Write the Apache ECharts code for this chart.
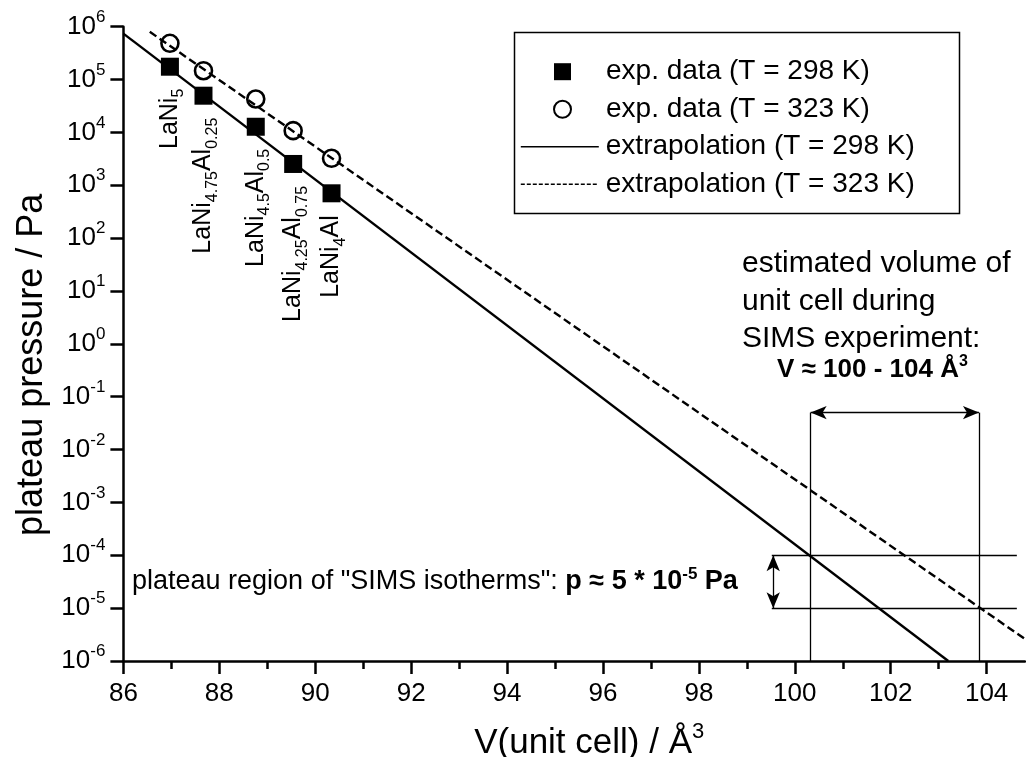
<!DOCTYPE html>
<html><head><meta charset="utf-8">
<script src="https://cdn.jsdelivr.net/npm/echarts@6/dist/echarts.min.js"></script>
<style>html,body{margin:0;padding:0;background:#fff}#c{width:1026px;height:757px}</style>
</head><body><div id="c"></div>
<script>
// ---- data ----
const volume = [86.97, 87.67, 88.76, 89.54, 90.34];
const p298 = [1.75e5, 4.95e4, 1.28e4, 2.53e3, 7.05e2];
const p323 = [4.85e5, 1.47e5, 4.29e4, 1.08e4, 3.24e3];
const compounds = ['{m|LaNi}{s|5}', '{m|LaNi}{s|4.75}{m|Al}{s|0.25}', '{m|LaNi}{s|4.5}{m|Al}{s|0.5}', '{m|LaNi}{s|4.25}{m|Al}{s|0.75}', '{m|LaNi}{s|4}{m|Al}'];
const fitV298 = [86.0, 103.2];
const fitP298 = [7.4e5, 1e-6];
const fitV323 = [86.55, 104.8];
const fitP323 = [8.0e5, 2.6e-6];
const simsV = [100.33, 103.84];      // estimated volume range (vertical lines)
const simsP = [1e-4, 1e-5];          // plateau pressure range (horizontal lines)
const guideVRange = [99.52, 104.63]; // extent of horizontal guide lines
const arrowV = 99.55;                // vertical double arrow position
const arrowP = 0.05;                 // horizontal double arrow level
const pBottom = 1e-6;
const xMajorTicks = [86, 88, 90, 92, 94, 96, 98, 100, 102, 104];
const xMinorTicks = [87, 89, 91, 93, 95, 97, 99, 101, 103];
const yTicks = [1e-6, 1e-5, 1e-4, 1e-3, 1e-2, 1e-1, 1e0, 1e1, 1e2, 1e3, 1e4, 1e5, 1e6];
const seriesNames = ['exp. data (T = 298 K)', 'exp. data (T = 323 K)', 'extrapolation (T = 298 K)', 'extrapolation (T = 323 K)'];

const FF = "'Liberation Sans', Arial, Helvetica, sans-serif";
const chart = echarts.init(document.getElementById('c'), null, {renderer: 'canvas'});

const thin = {color: '#000', width: 1.3, type: 'solid'};
function seg(a, b, sa, sb) {
  return [{coord: a, symbol: sa || 'none', symbolSize: [10, 16]}, {coord: b, symbol: sb || 'none', symbolSize: [10, 16]}];
}
const guides = [
  seg([simsV[0], pBottom], [simsV[0], arrowP]),
  seg([simsV[1], pBottom], [simsV[1], arrowP]),
  seg([guideVRange[0], simsP[0]], [guideVRange[1], simsP[0]]),
  seg([guideVRange[0], simsP[1]], [guideVRange[1], simsP[1]]),
  seg([simsV[0], arrowP], [simsV[1], arrowP], 'arrow', 'arrow'),
  seg([arrowV, simsP[0]], [arrowV, simsP[1]], 'arrow', 'arrow')
];

const option = {
  animation: false,
  backgroundColor: '#fff',
  textStyle: {fontFamily: FF, color: '#000'},
  grid: {left: 123.4, top: 26.7, right: 1, bottom: 96, containLabel: false, outerBoundsMode: 'none'},
  legend: [
    {
      data: [seriesNames[0], seriesNames[1]], orient: 'vertical', left: 548, top: 50.7,
      itemWidth: 17, itemHeight: 17, itemGap: 5.5, selectedMode: false,
      textStyle: {fontSize: 28, lineHeight: 32, color: '#000', fontFamily: FF, padding: [0, 0, 0, 30]}
    },
    {
      data: [
        {name: seriesNames[2], lineStyle: {width: 1.6, type: 'solid'}, itemStyle: {opacity: 0}},
        {name: seriesNames[3], lineStyle: {width: 1.6, type: [4, 2]}, itemStyle: {opacity: 0}}
      ],
      orient: 'vertical', left: 515, top: 125.7,
      itemWidth: 78, itemHeight: 14, itemGap: 5.5, selectedMode: false,
      textStyle: {fontSize: 28, lineHeight: 32, color: '#000', fontFamily: FF, padding: [0, 0, 0, 2]}
    }
  ],
  xAxis: [
    {
      type: 'value', min: 86, max: 104.8, interval: 2,
      name: '{a|V(unit cell) / Å}{b|3}', nameLocation: 'middle', nameGap: 60,
      nameTextStyle: {padding: [0, 0, 0, 30], rich: {a: {fontSize: 35, fontFamily: FF, color: '#000', lineHeight: 44}, b: {fontSize: 22, fontFamily: FF, color: '#000', verticalAlign: 'top', lineHeight: 22}}},
      axisLine: {show: true, onZero: false, lineStyle: {color: '#000', width: 2.5}},
      axisTick: {show: true, length: 13, lineStyle: {color: '#000', width: 2.5}, customValues: xMajorTicks},
      axisLabel: {fontSize: 26, color: '#000', fontFamily: FF, margin: 20, customValues: xMajorTicks},
      splitLine: {show: false}
    },
    {
      type: 'value', min: 86, max: 104.8, interval: 1, position: 'bottom',
      axisLine: {show: false},
      axisTick: {show: true, length: 8, lineStyle: {color: '#000', width: 2.5}, customValues: xMinorTicks},
      axisLabel: {show: false},
      splitLine: {show: false}
    }
  ],
  yAxis: {
    type: 'log', logBase: 10, min: 1e-6, max: 1e6,
    name: 'plateau pressure / Pa', nameLocation: 'middle', nameGap: 72,
    nameTextStyle: {fontSize: 36, fontFamily: FF, color: '#000', padding: [0, 42, 0, 0]},
    axisLine: {show: true, lineStyle: {color: '#000', width: 2.5}},
    axisTick: {show: true, length: 13, lineStyle: {color: '#000', width: 2.5}, customValues: yTicks},
    axisLabel: {
      margin: 18, customValues: yTicks,
      formatter: function (v) { const e = Math.round(Math.log10(v)); return '{b|10}{s|' + e + '}'; },
      rich: {
        b: {fontSize: 26, fontFamily: FF, color: '#000', lineHeight: 36},
        s: {fontSize: 17, fontFamily: FF, color: '#000', verticalAlign: 'top', lineHeight: 17}
      }
    },
    splitLine: {show: false}
  },
  series: [
    {
      name: seriesNames[2], type: 'line', symbol: 'none', z: 2,
      data: fitV298.map((v, i) => [v, fitP298[i]]),
      lineStyle: {color: '#000', width: 2.4},
      itemStyle: {color: '#000'},
      markLine: {silent: true, animation: false, symbol: 'none', label: {show: false}, lineStyle: thin, emphasis: {disabled: true}, data: guides}
    },
    {
      name: seriesNames[3], type: 'line', symbol: 'none', z: 2,
      data: fitV323.map((v, i) => [v, fitP323[i]]),
      lineStyle: {color: '#000', width: 2.4, type: [8, 4]},
      itemStyle: {color: '#000'}
    },
    {
      name: seriesNames[0], type: 'scatter', symbol: 'rect', symbolSize: 18, z: 4,
      data: volume.map((v, i) => ({value: [v, p298[i]], label: {formatter: compounds[i]}})),
      itemStyle: {color: '#000', opacity: 1},
      label: {
        show: true, position: 'bottom', distance: 13, rotate: 90, align: 'right', verticalAlign: 'middle',
        rich: {
          m: {fontSize: 25, fontFamily: FF, color: '#000', lineHeight: 34},
          s: {fontSize: 16, fontFamily: FF, color: '#000', verticalAlign: 'bottom', lineHeight: 16}
        }
      }
    },
    {
      name: seriesNames[1], type: 'scatter', symbol: 'circle', symbolSize: 17, z: 4,
      data: volume.map((v, i) => [v, p323[i]]),
      itemStyle: {color: 'rgba(255,255,255,0)', borderColor: '#000', borderWidth: 2.6, opacity: 1}
    }
  ],
  graphic: [
    {type: 'rect', left: 512, top: 30, shape: {width: 445, height: 181}, style: {fill: 'none', stroke: '#000', lineWidth: 1.5}, z: 10},
    {type: 'text', left: 742, top: 245, style: {text: 'estimated volume of\nunit cell during\nSIMS experiment:', fontSize: 30, fontFamily: FF, lineHeight: 37.5, fill: '#000'}},
    {type: 'text', left: 777, top: 354, style: {text: '{a|V ≈ 100 - 104 Å}{b|3}', rich: {a: {fontSize: 26, fontWeight: 'bold', fontFamily: FF, fill: '#000', lineHeight: 32}, b: {fontSize: 16, fontWeight: 'bold', fontFamily: FF, fill: '#000', verticalAlign: 'top', lineHeight: 16}}}},
    {type: 'text', left: 132, top: 566, style: {text: '{a|plateau region of "SIMS isotherms": }{c|p ≈ 5 * 10}{d|-5}{c| Pa}', rich: {a: {fontSize: 27, fontFamily: FF, fill: '#000', lineHeight: 32}, c: {fontSize: 27, fontWeight: 'bold', fontFamily: FF, fill: '#000', lineHeight: 32}, d: {fontSize: 17, fontWeight: 'bold', fontFamily: FF, fill: '#000', verticalAlign: 'top', lineHeight: 17}}}}
  ]
};
chart.setOption(option);
</script></body></html>
